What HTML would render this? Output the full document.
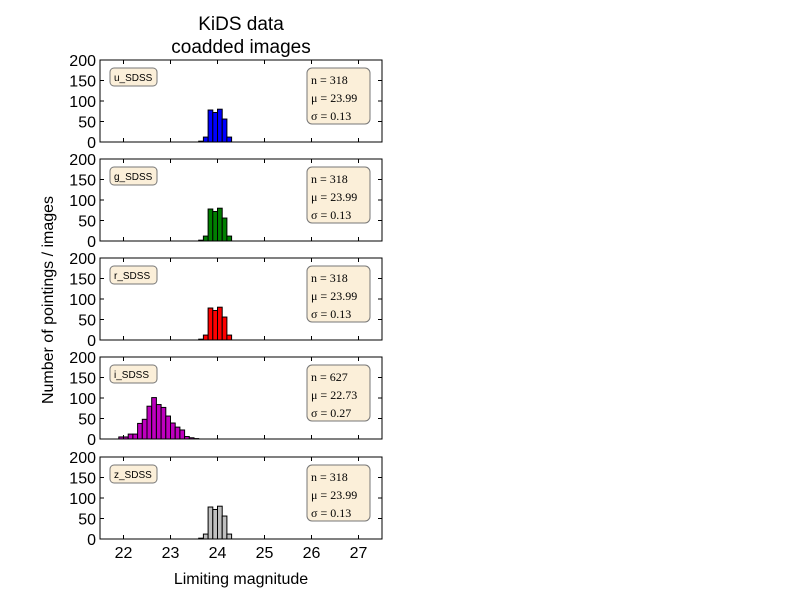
<!DOCTYPE html>
<html><head><meta charset="utf-8"><style>
body{margin:0;background:#fff;}
svg{font-family:"Liberation Sans","DejaVu Sans",sans-serif;}
</style></head><body>
<svg id="chart" width="800" height="600" xmlns="http://www.w3.org/2000/svg">
<text x="241" y="30" font-size="19" text-anchor="middle">KiDS data</text>
<text x="241" y="53" font-size="19" text-anchor="middle">coadded images</text>
<text transform="translate(53,300) rotate(-90)" font-size="16" text-anchor="middle">Number of pointings / images</text>
<text x="241" y="584" font-size="16" text-anchor="middle">Limiting magnitude</text>
</svg>
<script>
const bands = ["u_SDSS","g_SDSS","r_SDSS","i_SDSS","z_SDSS"];
const colors = ["#0000ff","#007f00","#ff0000","#bf00bf","#bfbfbf"];
const binStarts = [
  [23.6,23.7,23.8,23.9,24.0,24.1,24.2],
  [23.6,23.7,23.8,23.9,24.0,24.1,24.2],
  [23.6,23.7,23.8,23.9,24.0,24.1,24.2],
  [21.9,22.0,22.1,22.2,22.3,22.4,22.5,22.6,22.7,22.8,22.9,23.0,23.1,23.2,23.3,23.4,23.5],
  [23.6,23.7,23.8,23.9,24.0,24.1,24.2]
];
const counts = [
  [2,12,78,72,80,56,12],
  [2,12,78,72,80,56,12],
  [2,12,78,72,80,56,12],
  [5,5,12,12,38,48,80,101,84,77,56,39,29,22,6,3,1],
  [2,12,78,72,80,56,12]
];
const nVals = ["318","318","318","627","318"];
const muVals = ["23.99","23.99","23.99","22.73","23.99"];
const sigVals = ["0.13","0.13","0.13","0.27","0.13"];
const xTicks = [22,23,24,25,26,27];
const yTicks = [0,50,100,150,200];
const binWidth = 0.1;

const NS="http://www.w3.org/2000/svg";
const svg=document.getElementById('chart');
const L=100,R=382,xMin=21.5,xMax=27.5;
const panelTops=[60,159,258,357,457], PH=82;
function X(v){return L+(v-xMin)/(xMax-xMin)*(R-L);}
function mk(tag,attrs,parent){const e=document.createElementNS(NS,tag);for(const k in attrs)e.setAttribute(k,attrs[k]);(parent||svg).appendChild(e);return e;}

bands.forEach((b,i)=>{
  const top=panelTops[i];
  const Y=v=>top+PH-v/200*PH;
  const g=mk('g',{});
  
  
  counts[i].forEach((c,j)=>{
    const x0=X(binStarts[i][j]),x1=X(binStarts[i][j]+binWidth);
    const r=mk('rect',{x:x0,y:Y(c),width:x1-x0,height:Y(0)-Y(c),fill:colors[i],stroke:'#000','stroke-width':1},g);
    
    
  });
  const fr=mk('rect',{x:L,y:top,width:R-L,height:PH,fill:'none',stroke:'#000','stroke-width':1},g);
  
  
  yTicks.forEach(t=>{
    mk('line',{x1:L,x2:L+4,y1:Y(t),y2:Y(t),stroke:'#000'},g);
    mk('line',{x1:R,x2:R-4,y1:Y(t),y2:Y(t),stroke:'#000'},g);
    const tx=mk('text',{x:L-4,y:Y(t)+6,'font-size':16,'text-anchor':'end'},g);
    tx.textContent=t;
    
    
  });
  xTicks.forEach(t=>{
    mk('line',{x1:X(t),x2:X(t),y1:top+PH,y2:top+PH-4,stroke:'#000'},g);
    mk('line',{x1:X(t),x2:X(t),y1:top,y2:top+4,stroke:'#000'},g);
    if(i===4){
      const tx=mk('text',{x:X(t),y:top+PH+19,'font-size':16,'text-anchor':'middle'},g);
      tx.textContent=t;
      
      
    }
  });
  const lb=mk('rect',{x:110,y:top+8,width:47,height:18,rx:4,fill:'#fbefd9',stroke:'#777'},g);
  
  
  const lt=mk('text',{x:114,y:top+21,'font-size':10},g);
  lt.textContent=b;
  
  
  const sb=mk('rect',{x:307,y:top+8,width:63,height:56,rx:5,fill:'#fbefd9',stroke:'#777'},g);
  
  
  const lines=['n = '+nVals[i],'μ = '+muVals[i],'σ = '+sigVals[i]];
  lines.forEach((s,k)=>{
    const t=mk('text',{x:311,y:top+24+k*18,'font-size':12,'font-family':'"Liberation Serif",serif'},g);
    t.textContent=s;
    
    
  });
});
</script>
</body></html>
